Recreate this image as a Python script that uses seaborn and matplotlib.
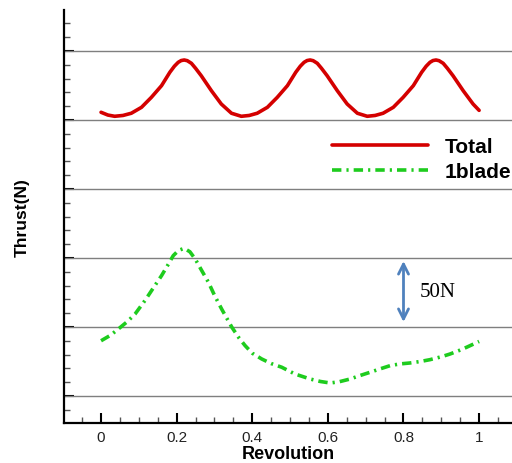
import matplotlib
matplotlib.use("Agg")
import matplotlib.pyplot as plt
import seaborn as sns
import pandas as pd
from matplotlib.ticker import MultipleLocator

sns.set_style("ticks")
plt.rcParams['font.family'] = ['Liberation Sans', 'DejaVu Sans']
plt.rcParams['text.color'] = 'black'
plt.rcParams['axes.labelcolor'] = 'black'

# Data
total_x = [0.0, 0.018, 0.036, 0.058, 0.080, 0.107, 0.133, 0.160, 0.182, 0.194, 0.204, 0.212,
           0.220, 0.228, 0.239, 0.250, 0.265, 0.292, 0.318, 0.345, 0.371, 0.392, 0.413,
           0.440, 0.466, 0.493, 0.515, 0.527, 0.537, 0.545, 0.553, 0.561, 0.572, 0.583,
           0.598, 0.625, 0.651, 0.678, 0.704, 0.725, 0.746, 0.773, 0.799, 0.826, 0.848,
           0.860, 0.870, 0.878, 0.886, 0.894, 0.905, 0.916, 0.931, 0.958, 0.984, 1.0]
total_y = [205.6, 203.6, 202.7, 203.3, 204.9, 209.2, 216.4, 224.9, 234.6, 239.0, 241.8, 243.1,
           243.5, 243.0, 241.1, 237.5, 232.1, 221.2, 211.6, 204.9, 202.7, 203.3, 204.9,
           209.2, 216.4, 224.9, 234.6, 239.0, 241.8, 243.1, 243.5, 243.0, 241.1, 237.5,
           232.1, 221.2, 211.6, 204.9, 202.7, 203.3, 204.9, 209.2, 216.4, 224.9, 234.6,
           239.0, 241.8, 243.1, 243.5, 243.0, 241.1, 237.5, 232.1, 221.2, 211.6, 207.0]

blade_x = [0.0, 0.025, 0.046, 0.07, 0.09, 0.116, 0.14, 0.16, 0.178, 0.191, 0.205, 0.22,
           0.235, 0.249, 0.265, 0.284, 0.30, 0.319, 0.346, 0.365, 0.381, 0.40, 0.425,
           0.45, 0.478, 0.513, 0.553, 0.58, 0.606, 0.63, 0.659, 0.685, 0.712, 0.74,
           0.765, 0.79, 0.817, 0.845, 0.870, 0.90, 0.923, 0.945, 0.967, 1.0]
blade_y = [40.0, 44.0, 48.6, 54.0, 59.4, 69.1, 79.0, 87.2, 95.5, 101.7, 105.5, 107.0,
           104.5, 99.3, 91.5, 82.4, 73.0, 63.0, 49.8, 42.0, 36.5, 31.0, 26.8,
           23.5, 20.8, 15.9, 12.3, 10.5, 9.4, 10.3, 12.3, 14.8, 17.2, 19.8,
           22.0, 23.2, 23.9, 25.0, 26.3, 28.4, 30.4, 32.7, 35.3, 39.5]

series_labels = ["Total", "1blade"]
xtick_vals = [0, 0.2, 0.4, 0.6, 0.8, 1.0]
xtick_labels = ["0", "0.2", "0.4", "0.6", "0.8", "1"]
grid_vals = [0, 50, 100, 150, 200, 250]
scale_label = "50N"

df_total = pd.DataFrame({"x": total_x, "y": total_y})
df_blade = pd.DataFrame({"x": blade_x, "y": blade_y})

fig = plt.figure(figsize=(5.12, 4.64), dpi=100)
ax = fig.add_axes([0.125, 0.0862, 0.875, 0.890])

for g in grid_vals:
    ax.axhline(g, color='#7f7f7f', lw=1.0, zorder=1)

sns.lineplot(data=df_total, x="x", y="y", ax=ax, color='#d40000', lw=2.6,
             label=series_labels[0], sort=False, zorder=3)
sns.lineplot(data=df_blade, x="x", y="y", ax=ax, color='#1ecc1e', lw=2.6,
             label=series_labels[1], sort=False, zorder=3)
ax.lines[-1].set_dashes((2.6, 1.4, 0.6, 1.4))
ax.lines[-2].set_solid_joinstyle('round')

ax.set_xlim(-0.098, 1.087)
ax.set_ylim(-19.6, 279.7)

ax.set_xticks(xtick_vals)
ax.set_xticklabels(xtick_labels, fontsize=11, color='#222222')
ax.xaxis.set_minor_locator(MultipleLocator(0.05))
ax.set_yticks(grid_vals)
ax.set_yticklabels([])
ax.yaxis.set_minor_locator(MultipleLocator(10))
ax.tick_params(axis='both', which='major', direction='in', length=7, width=1.5, color='black', pad=5)
ax.tick_params(axis='both', which='minor', direction='in', length=4, width=1.0, color='#555555')

for s in ['top', 'right']:
    ax.spines[s].set_visible(False)
for s in ['left', 'bottom']:
    ax.spines[s].set_linewidth(1.6)
    ax.spines[s].set_color('black')

ax.set_xlabel("Revolution", fontsize=13, fontweight='bold', labelpad=1)
ax.set_ylabel("Thrust(N)", fontsize=12.5, fontweight='bold', labelpad=20)

leg = ax.legend(loc='upper left', bbox_to_anchor=(0.648, 0.703), bbox_transform=fig.transFigure,
                frameon=False, fontsize=15, handlelength=4.6, handletextpad=0.8,
                labelspacing=0.3, borderpad=0, borderaxespad=0)
for t in leg.get_texts():
    t.set_fontweight('bold')
    t.set_color('black')

ax.annotate('', xy=(0.8, 53.6), xytext=(0.8, 97.8),
            arrowprops=dict(arrowstyle='<->', color='#4f81bd', lw=2, mutation_scale=18,
                            shrinkA=0, shrinkB=0))
ax.text(0.844, 75.4, scale_label, fontsize=15, family='Liberation Serif', ha='left', va='center',
        color='black')

fig.savefig("out.png", dpi=100)
